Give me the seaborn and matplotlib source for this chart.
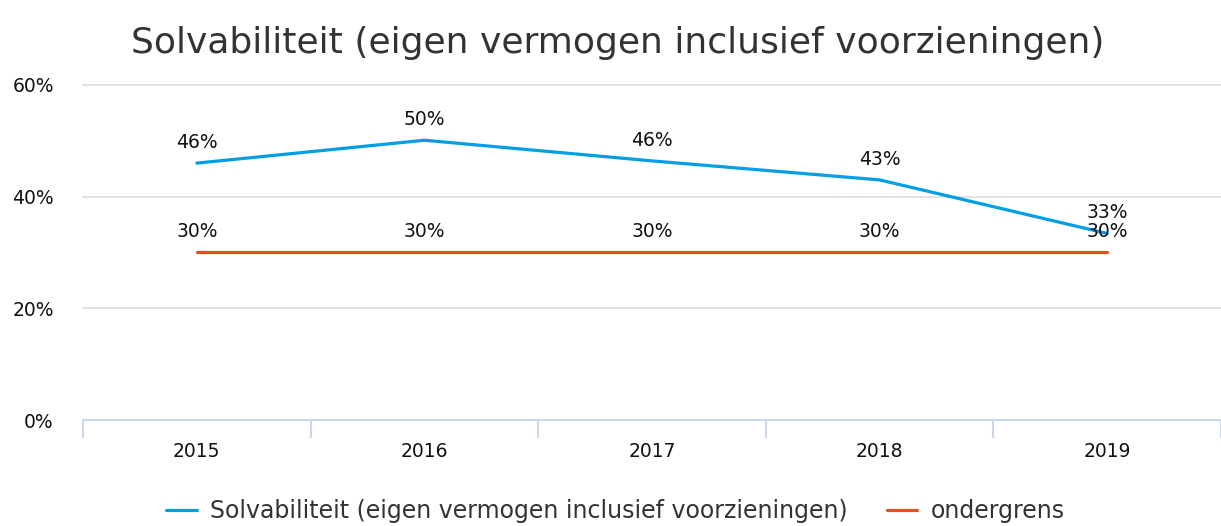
import numpy as np
import pandas as pd
import matplotlib.pyplot as plt
import seaborn as sns

jaren = ["2015", "2016", "2017", "2018", "2019"]
solvabiliteit = [46.0, 50.1, 46.4, 43.0, 33.4]
ondergrens = [30, 30, 30, 30, 30]
reeks_namen = ["Solvabiliteit (eigen vermogen inclusief voorzieningen)", "ondergrens"]
kleuren = ["#009FE3", "#E9501B"]

df = pd.DataFrame({
    "jaar": jaren * 2,
    "waarde": solvabiliteit + ondergrens,
    "reeks": [reeks_namen[0]] * len(jaren) + [reeks_namen[1]] * len(jaren),
})

sns.set_style("white")
plt.rcParams["font.family"] = ["DejaVu Sans"]

fig = plt.figure(figsize=(12.21, 5.26), dpi=100)
ax = fig.add_axes([0.068, 0.2015, 0.932, 0.637])

sns.lineplot(data=df, x="jaar", y="waarde", hue="reeks", palette=kleuren,
             linewidth=2.3, ax=ax, sort=False, legend=True)

# data labels
for naam in reeks_namen:
    sub = df[df["reeks"] == naam]
    for j, v in zip(sub["jaar"], sub["waarde"]):
        ax.annotate(f"{round(v)}%", (j, v), xytext=(0, 15), textcoords="offset points",
                    ha="center", va="center", fontsize=13.5, color="#111111")

ax.set_xlim(-0.5, 4.5)
ax.set_ylim(0, 60)
ax.set_yticks([0, 20, 40, 60])
ax.set_yticklabels([f"{t}%" for t in [0, 20, 40, 60]])
ax.set_xlabel("")
ax.set_ylabel("")
ax.grid(axis="y", color="#e3e3e3", linewidth=1.4, clip_on=False)
ax.set_axisbelow(True)

for s in ["top", "right", "left"]:
    ax.spines[s].set_visible(False)
ax.spines["bottom"].set_color("#ccd6eb")
ax.spines["bottom"].set_linewidth(1.5)

ax.set_xticks(np.arange(-0.5, 5, 1), minor=True)
ax.tick_params(axis="x", which="minor", bottom=True, length=13, width=1.5,
               color="#ccd6eb", direction="out")
ax.tick_params(axis="x", which="major", bottom=True, length=0, pad=16,
               labelsize=13.5, labelcolor="#111111")
ax.tick_params(axis="y", length=0, pad=21, labelsize=13.5, labelcolor="#111111")

fig.suptitle("Solvabiliteit (eigen vermogen inclusief voorzieningen)", x=0.5057, y=0.95,
             fontsize=26, color="#333333")

ax.legend(loc="center", bbox_to_anchor=(0.504, 0.028), bbox_transform=fig.transFigure,
          ncol=2, frameon=False, fontsize=17, handlelength=1.3, handletextpad=0.55,
          columnspacing=1.65, labelcolor="#333333")

fig.savefig("out.png", dpi=100)
